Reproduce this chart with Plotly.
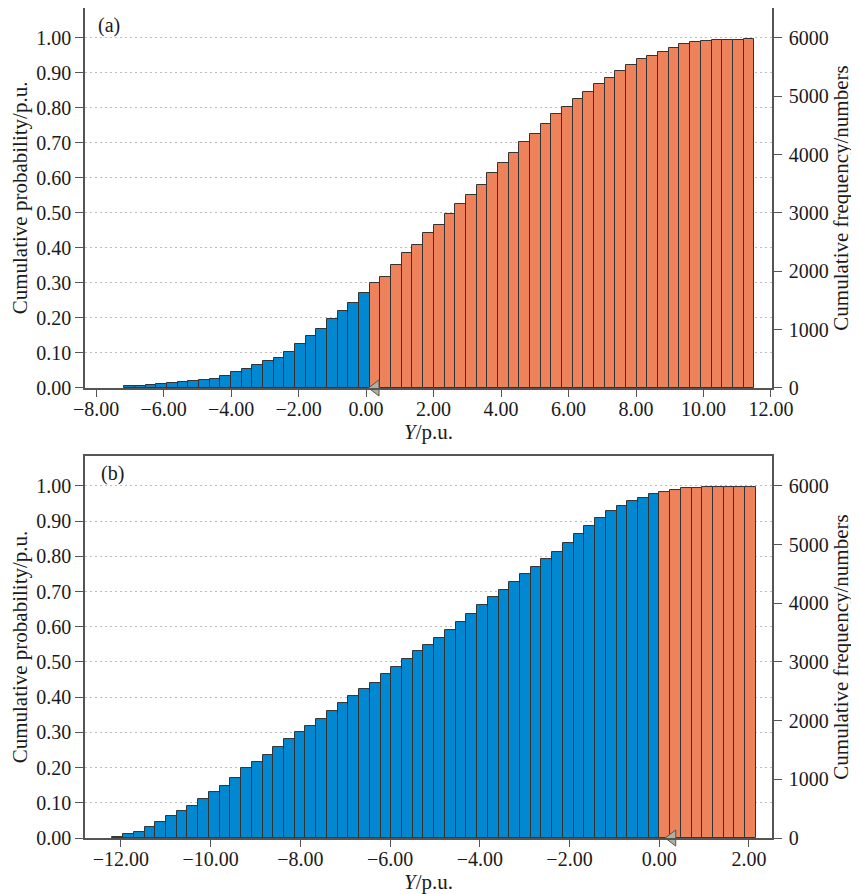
import numpy as np
import plotly.graph_objects as go

# ---------------- data ----------------
TOTAL_SAMPLES = 6000

# panel (a): histogram bins
A_BIN_START = -7.17
A_BIN_WIDTH = 0.3165
A_PROB_NEG = [0.0066, 0.0066, 0.0095, 0.012, 0.014, 0.017, 0.021, 0.024, 0.027, 0.034,
              0.046, 0.054, 0.066, 0.076, 0.087, 0.104, 0.126, 0.148, 0.167, 0.198,
              0.220, 0.244, 0.272]
A_PROB_POS = [0.300, 0.318, 0.350, 0.386, 0.409, 0.443, 0.466, 0.498, 0.524, 0.551,
              0.581, 0.613, 0.643, 0.670, 0.701, 0.725, 0.753, 0.781, 0.801, 0.825,
              0.846, 0.868, 0.884, 0.906, 0.922, 0.938, 0.949, 0.960, 0.972, 0.982,
              0.988, 0.991, 0.994, 0.994, 0.995, 0.996]
A_MARKER_X = 0.28

# panel (b)
B_BIN_START = -12.19
B_BIN_WIDTH = 0.2391
B_PROB_NEG = [0.004, 0.011, 0.016, 0.031, 0.046, 0.061, 0.077, 0.092, 0.112, 0.131,
              0.148, 0.170, 0.199, 0.216, 0.237, 0.257, 0.282, 0.302, 0.318, 0.339,
              0.361, 0.382, 0.404, 0.423, 0.441, 0.465, 0.485, 0.508, 0.530, 0.549,
              0.569, 0.591, 0.613, 0.637, 0.661, 0.684, 0.705, 0.726, 0.751, 0.771,
              0.792, 0.813, 0.839, 0.863, 0.886, 0.908, 0.929, 0.943, 0.957, 0.967,
              0.976]
B_PROB_POS = [0.983, 0.989, 0.993, 0.995, 0.996, 0.996, 0.996, 0.996, 0.996]
B_MARKER_X = 0.29

PROB_TICKS = [0.0, 0.1, 0.2, 0.3, 0.4, 0.5, 0.6, 0.7, 0.8, 0.9, 1.0]
FREQ_TICKS = [0, 1000, 2000, 3000, 4000, 5000, 6000]
A_X_TICKS = [-8, -6, -4, -2, 0, 2, 4, 6, 8, 10, 12]
B_X_TICKS = [-12, -10, -8, -6, -4, -2, 0, 2]

PANEL_LABELS = ["(a)", "(b)"]
X_TITLE = "<i>Y</i>/p.u."
Y_TITLE_LEFT = "Cumulative probability/p.u."
Y_TITLE_RIGHT = "Cumulative frequency/numbers"

# ---------------- style ----------------
BLUE = "#0288d1"
ORANGE = "#ee825a"
EDGE = "#333333"
AXIS = "#555555"
GRID = "#bdbdbd"
FONT = "Liberation Serif"
TXT = "#1a1a1a"
YMAX = 1.085


def centers(start, width, n):
    return start + (np.arange(n) + 0.5) * width


fig = go.Figure()

panels = [
    dict(start=A_BIN_START, width=A_BIN_WIDTH, neg=A_PROB_NEG, pos=A_PROB_POS,
         mx=A_MARKER_X, xa="x", ya="y", ya2="y2"),
    dict(start=B_BIN_START, width=B_BIN_WIDTH, neg=B_PROB_NEG, pos=B_PROB_POS,
         mx=B_MARKER_X, xa="x2", ya="y3", ya2="y4"),
]

for p in panels:
    n_neg, n_pos = len(p["neg"]), len(p["pos"])
    c = centers(p["start"], p["width"], n_neg + n_pos)
    fig.add_trace(go.Bar(x=c[:n_neg], y=p["neg"], width=p["width"],
                         marker=dict(color=BLUE, line=dict(color=EDGE, width=1)),
                         xaxis=p["xa"], yaxis=p["ya"], showlegend=False))
    fig.add_trace(go.Bar(x=c[n_neg:], y=p["pos"], width=p["width"],
                         marker=dict(color=ORANGE, line=dict(color=EDGE, width=1)),
                         xaxis=p["xa"], yaxis=p["ya"], showlegend=False))
    # invisible trace carrying the frequency scale on the right axis
    freq = [v * TOTAL_SAMPLES for v in list(p["neg"]) + list(p["pos"])]
    fig.add_trace(go.Scatter(x=c, y=freq, mode="markers", marker=dict(opacity=0),
                             hoverinfo="skip", xaxis=p["xa"], yaxis=p["ya2"],
                             showlegend=False))
    fig.add_trace(go.Scatter(x=[p["mx"]], y=[0], mode="markers", cliponaxis=False,
                             marker=dict(symbol="triangle-left", size=14, color="#b0b09e",
                                         line=dict(color="#555555", width=1)),
                             xaxis=p["xa"], yaxis=p["ya"], showlegend=False))

tickfont = dict(family=FONT, size=20, color=TXT)
titlefont = dict(family=FONT, size=21, color=TXT)

common_x = dict(showline=True, mirror=True, linecolor=AXIS, linewidth=1.5,
                ticks="outside", ticklen=7, tickcolor=AXIS, tickwidth=1.2,
                ticklabelstandoff=-5,
                showgrid=False, zeroline=False, tickformat=".2f", tickfont=tickfont,
                title=dict(text=X_TITLE, font=dict(family=FONT, size=21, color=TXT), standoff=0))
common_yl = dict(showline=True, linecolor=AXIS, linewidth=1.5, ticks="outside",
                 ticklen=8, tickcolor=AXIS, tickwidth=1.2, showgrid=True,
                 gridcolor=GRID, griddash="2px,3px", gridwidth=1.2, zeroline=False,
                 tickformat=".2f", tickvals=PROB_TICKS, range=[0, YMAX],
                 tickfont=tickfont, title=dict(text=Y_TITLE_LEFT, font=titlefont, standoff=5))
common_yr = dict(showline=True, linecolor=AXIS, linewidth=1.5, ticks="outside",
                 ticklen=8, tickcolor=AXIS, tickwidth=1.2, showgrid=False,
                 ticklabelstandoff=3,
                 zeroline=False, side="right", tickvals=FREQ_TICKS,
                 range=[0, YMAX * TOTAL_SAMPLES], tickfont=tickfont,
                 title=dict(text=Y_TITLE_RIGHT, font=titlefont, standoff=6))

# the page body adds an 8 px offset; the figure is sized to fill the rest
fig.update_layout(
    width=851, height=886,
    margin=dict(l=77, r=87, t=0, b=56),
    template="none",
    paper_bgcolor="white", plot_bgcolor="white",
    bargap=0,
    font=dict(family=FONT, color=TXT),
    xaxis=dict(common_x, domain=[0, 1], anchor="y", range=[-8.33, 12.03], tickvals=A_X_TICKS),
    yaxis=dict(common_yl, domain=[0.5422, 1.0], anchor="x"),
    yaxis2=dict(common_yr, overlaying="y", anchor="x"),
    xaxis2=dict(common_x, domain=[0, 1], anchor="y3", range=[-12.80, 2.514], tickvals=B_X_TICKS),
    yaxis3=dict(common_yl, domain=[0.0, 0.4602], anchor="x2"),
    yaxis4=dict(common_yr, overlaying="y3", anchor="x2"),
)

fig.add_annotation(text=PANEL_LABELS[0], xref="x domain", yref="y domain", x=0.016, y=0.955,
                   xanchor="left", yanchor="middle", showarrow=False,
                   font=dict(family=FONT, size=20, color=TXT))
fig.add_annotation(text=PANEL_LABELS[1], xref="x2 domain", yref="y3 domain", x=0.02, y=0.955,
                   xanchor="left", yanchor="middle", showarrow=False,
                   font=dict(family=FONT, size=20, color=TXT))

fig.write_html("out.html")
